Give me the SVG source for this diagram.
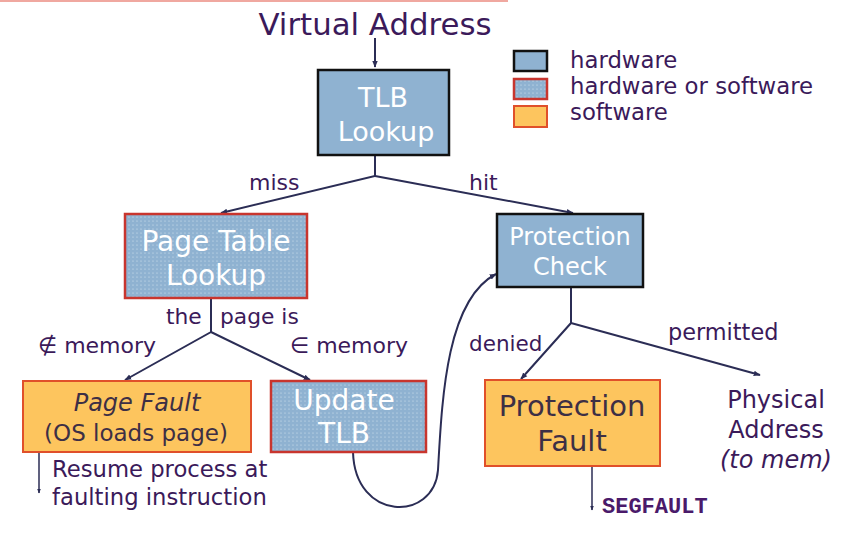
<svg xmlns="http://www.w3.org/2000/svg" width="865" height="536" viewBox="0 0 865 536">
<defs>
<pattern id="dots" width="4" height="4" patternUnits="userSpaceOnUse">
<rect width="4" height="4" fill="#8fb2d1"/>
<circle cx="1" cy="1" r="0.6" fill="#d8e6f2"/>
</pattern>
<marker id="ah" viewBox="0 0 10 10" refX="9" refY="5" markerWidth="7" markerHeight="7" markerUnits="userSpaceOnUse" orient="auto">
<path d="M0,1 L10,5 L0,9 Z" fill="#2b2d55"/>
</marker>
<marker id="ahs" viewBox="0 0 10 10" refX="9" refY="5" markerWidth="5" markerHeight="5" markerUnits="userSpaceOnUse" orient="auto">
<path d="M0,1 L10,5 L0,9 Z" fill="#2b2d55"/>
</marker>
</defs>
<style>
.hw{fill:#8fb2d1;stroke:#111;stroke-width:2.5}
.hs{fill:url(#dots);stroke:#c8352e;stroke-width:2.5}
.sw{fill:#fdc55e;stroke:#e0502a;stroke-width:2}
.t{font-family:"DejaVu Sans",Verdana,sans-serif;fill:#3b1a5a}
.w{font-family:"DejaVu Sans",Verdana,sans-serif;fill:#ffffff;text-anchor:middle}
.d{font-family:"DejaVu Sans",Verdana,sans-serif;fill:#3d2f45;text-anchor:middle}
.c{fill:none;stroke:#2b2d55;stroke-width:2}
.c1{fill:none;stroke:#2b2d55;stroke-width:1.5}
</style>
<rect x="0" y="0" width="508" height="2" fill="#f0a8a0"/>
<text class="t" x="375" y="35" font-size="30.8" text-anchor="middle">Virtual Address</text>
<g id="legend">
<rect class="hw" x="514" y="51" width="33" height="20" stroke-width="2"/>
<rect class="hs" x="514" y="79" width="33" height="20" stroke-width="2"/>
<rect class="sw" x="514" y="106" width="33" height="21"/>
<text class="t" x="570" y="68" font-size="22.8">hardware</text>
<text class="t" x="570" y="94" font-size="22.8">hardware or software</text>
<text class="t" x="570" y="120" font-size="22.8">software</text>
</g>
<g id="connectors">
<path class="c" d="M375,38 L375,67" marker-end="url(#ah)"/>
<path class="c" d="M375,155 L375,176 L221,213" marker-end="url(#ah)"/>
<path class="c" d="M375,176 L573,213" marker-end="url(#ah)"/>
<path class="c" d="M211,298 L211,332 L125,380" marker-end="url(#ah)"/>
<path class="c" d="M211,332 L310,380" marker-end="url(#ah)"/>
<path class="c" d="M571,287 L571,323 L521,379" marker-end="url(#ah)"/>
<path class="c" d="M571,323 L760,375" marker-end="url(#ah)"/>
<path class="c" d="M353,452 C355,522 434,522 438,470 C442,400 446,300 496,274" marker-end="url(#ah)"/>
<path class="c1" d="M39,452 L39,493" marker-end="url(#ahs)"/>
<path class="c1" d="M592,466 L592,510" marker-end="url(#ahs)"/>
</g>
<g id="tlb">
<rect class="hw" x="318" y="70" width="131" height="85"/>
<text class="w" x="383" y="107" font-size="27">TLB</text>
<text class="w" x="386" y="141" font-size="27">Lookup</text>
</g>
<text class="t" x="249" y="190" font-size="22">miss</text>
<text class="t" x="469" y="190" font-size="22">hit</text>
<g id="ptl">
<rect class="hs" x="125" y="214" width="182" height="84"/>
<text class="w" x="216" y="251" font-size="28">Page Table</text>
<text class="w" x="216" y="285" font-size="28">Lookup</text>
</g>
<g id="pc">
<rect class="hw" x="497" y="214" width="146" height="73"/>
<text class="w" x="570" y="245" font-size="24">Protection</text>
<text class="w" x="570" y="275" font-size="24">Check</text>
</g>
<text class="t" x="166" y="324" font-size="21.8">the</text>
<text class="t" x="220" y="324" font-size="21.8">page is</text>
<text class="t" x="38" y="353" font-size="22">∉ memory</text>
<text class="t" x="290" y="353" font-size="22">∈ memory</text>
<text class="t" x="469" y="351" font-size="21.5">denied</text>
<text class="t" x="668" y="340" font-size="22.4">permitted</text>
<g id="pf">
<rect class="sw" x="23" y="381" width="228" height="71"/>
<text class="d" x="137" y="411" font-size="24" font-style="italic">Page Fault</text>
<text class="d" x="136" y="441" font-size="23">(OS loads page)</text>
</g>
<g id="utlb">
<rect class="hs" x="271" y="381" width="155" height="71"/>
<text class="w" x="344" y="410" font-size="28">Update</text>
<text class="w" x="344" y="443" font-size="28">TLB</text>
</g>
<g id="pfault">
<rect class="sw" x="485" y="380" width="175" height="86"/>
<text class="d" x="572" y="416" font-size="29">Protection</text>
<text class="d" x="572" y="451" font-size="29">Fault</text>
</g>
<g id="phys">
<text class="t" x="776" y="408" font-size="24" text-anchor="middle">Physical</text>
<text class="t" x="776" y="438" font-size="24" text-anchor="middle">Address</text>
<text class="t" x="776" y="468" font-size="24" text-anchor="middle" font-style="italic">(to mem)</text>
</g>
<text class="t" x="52" y="477" font-size="22.7">Resume process at</text>
<text class="t" x="52" y="505" font-size="22.7">faulting instruction</text>
<text x="602" y="513" font-size="22" font-weight="bold" font-family="'Liberation Mono','Courier New',monospace" fill="#4a1a6a">SEGFAULT</text>
</svg>
